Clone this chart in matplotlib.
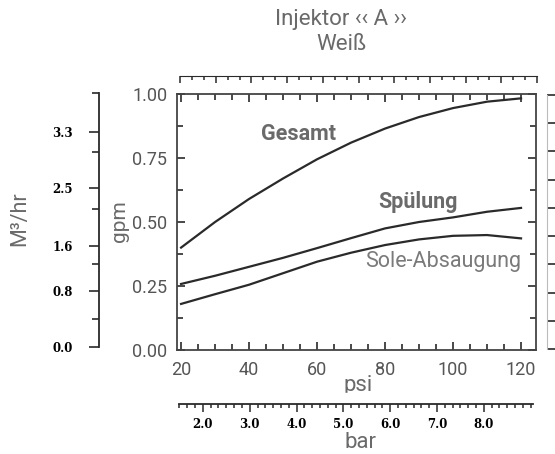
import matplotlib.pyplot as plt
from matplotlib.patches import Rectangle
from matplotlib.ticker import MultipleLocator, FixedLocator

plt.rcParams['font.family'] = ['Roboto', 'DejaVu Sans']

# pressure (psi) and flow (gpm)
psi = [20, 30, 40, 50, 60, 70, 80, 90, 100, 110, 120]
gesamt = [0.40, 0.50, 0.59, 0.67, 0.745, 0.81, 0.865, 0.91, 0.945, 0.97, 0.983]
spuelung = [0.258, 0.29, 0.325, 0.36, 0.398, 0.437, 0.475, 0.50, 0.518, 0.54, 0.555]
sole = [0.18, 0.218, 0.255, 0.30, 0.345, 0.38, 0.41, 0.432, 0.446, 0.449, 0.436]

bar_ticks = [2, 3, 4, 5, 6, 7, 8]
bar_labels = ['2.0', '3.0', '4.0', '5.0', '6.0', '7.0', '8.0']
m3_labels = ['0.0', '0.8', '1.6', '2.5', '3.3']

W, H = 555, 454
grey = '#6a6a6a'
ink = '#2a2a2a'

fig = plt.figure(figsize=(W / 100, H / 100), dpi=100)

def box(x0, y0, x1, y1):
    # pixel box (top-left origin) -> figure fraction rect
    return [x0 / W, 1 - y1 / H, (x1 - x0) / W, (y1 - y0) / H]

# main chart
ax = fig.add_axes(box(177, 94, 536, 350))
ax.plot(psi, gesamt, color=ink, lw=1.6)
ax.plot(psi, spuelung, color=ink, lw=1.6)
ax.plot(psi, sole, color=ink, lw=1.6)
ax.set_xlim(18.8, 124.4)
ax.set_ylim(0, 1.0)
ax.xaxis.set_major_locator(MultipleLocator(20))
ax.xaxis.set_minor_locator(MultipleLocator(5))
ax.yaxis.set_major_locator(MultipleLocator(0.25))
ax.yaxis.set_minor_locator(MultipleLocator(0.125))
ax.yaxis.set_major_formatter(lambda v, p: f'{v:.2f}')
ax.tick_params(which='both', direction='in', top=True, right=True, color=ink,
               labelsize=13, labelcolor='#555555', width=1.2)
ax.tick_params(which='major', length=6)
ax.tick_params(which='minor', length=4)
ax.tick_params(axis='x', pad=8)
ax.tick_params(axis='y', pad=7)
for s in ax.spines.values():
    s.set_color('#444444')
    s.set_linewidth(1.3)

ax.text(54.4, 0.844, 'Gesamt', ha='center', va='center', fontsize=15.5,
        fontweight='bold', color=grey)
ax.text(89.7, 0.578, 'Spülung', ha='center', va='center', fontsize=15.5,
        fontweight='bold', color=grey)
ax.text(97.1, 0.344, 'Sole-Absaugung', ha='center', va='center', fontsize=15.5,
        color='#7a7a7a')

fig.text(119 / W, 1 - 221 / H, 'gpm', rotation=90, ha='center', va='center',
         fontsize=15, color=grey)
fig.text(20 / W, 1 - 219 / H, 'M³/hr', rotation=90, ha='center', va='center',
         fontsize=15.5, color=grey)
fig.text(358 / W, 1 - 385 / H, 'psi', ha='center', va='center',
         fontsize=16, color=grey)
fig.text(360 / W, 1 - 442 / H, 'bar', ha='center', va='center',
         fontsize=16, color=grey)
fig.text(341 / W, 1 - 19 / H, 'Injektor ‹‹ A ››', ha='center', va='center',
         fontsize=16, color=grey)
fig.text(341 / W, 1 - 44 / H, 'Weiß', ha='center', va='center',
         fontsize=16, color=grey)
# the scan clips the foot of the "psi" label
fig.patches.append(Rectangle((330 / W, 1 - 401 / H), 60 / W, 8 / H,
                             transform=fig.transFigure, color='white', zorder=5))

def scale_axes(rect):
    a = fig.add_axes(rect)
    a.patch.set_alpha(0)
    for s in a.spines.values():
        s.set_visible(False)
    a.set_xticks([])
    a.set_yticks([])
    return a

serif = dict(family='DejaVu Serif', weight='bold', size=8.5)

# top scale
at = scale_axes(box(180, 75, 537, 76))
at.spines['bottom'].set_visible(True)
at.spines['bottom'].set_color(ink)
at.set_xlim(0, 30)
at.xaxis.set_major_locator(MultipleLocator(3))
at.xaxis.set_minor_locator(MultipleLocator(1))
at.tick_params(which='both', direction='out', color=ink, labelbottom=False, width=1.1)
at.tick_params(which='major', length=5)
at.tick_params(which='minor', length=3)

# bar scale
ab = scale_axes(box(179, 403, 533, 404))
ab.spines['bottom'].set_visible(True)
ab.spines['bottom'].set_color(ink)
ab.spines['bottom'].set_linewidth(1.3)
ab.set_xlim(1.49, 9.05)
ab.xaxis.set_major_locator(FixedLocator(bar_ticks))
ab.xaxis.set_minor_locator(MultipleLocator(1 / 6))
ab.set_xticklabels(bar_labels, fontdict=serif)
ab.tick_params(which='both', direction='out', color=ink, width=1.1, pad=4)
ab.tick_params(which='major', length=6)
ab.tick_params(which='minor', length=3)

# M3/hr scale
am = scale_axes(box(99, 93, 100, 347))
am.spines['left'].set_visible(True)
am.spines['left'].set_color(ink)
am.spines['left'].set_linewidth(1.3)
am.set_ylim(0, 1)
am.yaxis.set_major_locator(FixedLocator([0, 0.221, 0.399, 0.625, 0.846]))
am.yaxis.set_minor_locator(FixedLocator([0.111, 0.328, 0.545, 0.767, 1.0]))
am.set_yticklabels(m3_labels, fontdict=serif)
am.tick_params(which='both', direction='out', color=ink, width=1.2, pad=12)
am.tick_params(which='major', length=7)
am.tick_params(which='minor', length=5)

# right edge scale (cut off)
ar = scale_axes(box(547, 95, 548, 349))
ar.spines['left'].set_visible(True)
ar.spines['left'].set_color('#bbbbbb')
ar.set_ylim(0, 9)
ar.yaxis.set_major_locator(MultipleLocator(1))
ar.tick_params(direction='in', length=9, color=ink, width=1.2, labelleft=False)

fig.savefig('out.png', dpi=100)
